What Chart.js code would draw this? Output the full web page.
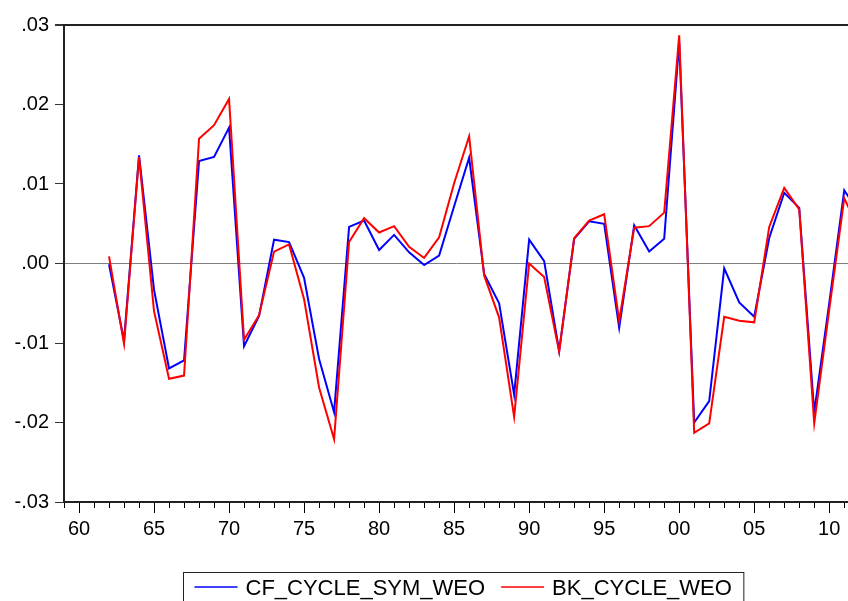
<!DOCTYPE html>
<html>
<head>
<meta charset="utf-8">
<title>CF vs BK cycle</title>
<script src="https://cdn.jsdelivr.net/npm/chart.js@4.4.1/dist/chart.umd.min.js"></script>
<style>
    html, body { margin: 0; padding: 0; background: #fff; overflow: hidden; }
</style>
</head>
<body>
<canvas id="cycleChart" width="848" height="601"></canvas>
<script>
//annual observations (1962-2012)
const years = [1962, 1963, 1964, 1965, 1966, 1967, 1968, 1969, 1970, 1971,
    1972, 1973, 1974, 1975, 1976, 1977, 1978, 1979, 1980, 1981,
    1982, 1983, 1984, 1985, 1986, 1987, 1988, 1989, 1990, 1991,
    1992, 1993, 1994, 1995, 1996, 1997, 1998, 1999, 2000, 2001,
    2002, 2003, 2004, 2005, 2006, 2007, 2008, 2009, 2010, 2011, 2012];

//Christiano-Fitzgerald symmetric filter cycle
const cfCycle = [-0.0001, -0.0097, 0.0136, -0.0033, -0.0132, -0.0122, 0.0129, 0.0134, 0.0171, -0.0104,
    -0.0066, 0.0030, 0.0027, -0.0018, -0.0120, -0.0187, 0.0046, 0.0054, 0.0017, 0.0036,
    0.0014, -0.0002, 0.0010, 0.0072, 0.0133, -0.0013, -0.0050, -0.0165, 0.0030, 0.0003,
    -0.0110, 0.0031, 0.0053, 0.0050, -0.0081, 0.0048, 0.0015, 0.0031, 0.0278, -0.0200,
    -0.0173, -0.0006, -0.0049, -0.0067, 0.0032, 0.0089, 0.0070, -0.0187, -0.0050, 0.0092, 0.0064];

//Baxter-King filter cycle
const bkCycle = [0.0009, -0.0101, 0.0134, -0.0060, -0.0145, -0.0141, 0.0157, 0.0174, 0.0207, -0.0096,
    -0.0065, 0.0015, 0.0024, -0.0045, -0.0156, -0.0221, 0.0027, 0.0057, 0.0039, 0.0047,
    0.0021, 0.0007, 0.0033, 0.0101, 0.0160, -0.0015, -0.0068, -0.0193, 0.0000, -0.0017,
    -0.0111, 0.0032, 0.0054, 0.0062, -0.0072, 0.0045, 0.0047, 0.0064, 0.0287, -0.0213,
    -0.0201, -0.0067, -0.0072, -0.0074, 0.0046, 0.0095, 0.0068, -0.0201, -0.0058, 0.0082, 0.0042];

//axis ticks
const xMajorTicks = [1960, 1965, 1970, 1975, 1980, 1985, 1990, 1995, 2000, 2005, 2010];
const xMajorLabels = ['60', '65', '70', '75', '80', '85', '90', '95', '00', '05', '10'];
const xMinorTicks = [];
for (let y = 1959; y <= 2011; y++) xMinorTicks.push(y);
const yTicks = [-0.03, -0.02, -0.01, 0, 0.01, 0.02, 0.03];
const yLabels = ['-.03', '-.02', '-.01', '.00', '.01', '.02', '.03'];

const FONT = '"Liberation Sans", Arial, sans-serif';
Chart.defaults.font.family = FONT;
Chart.defaults.color = '#000';

//boxed legend under the plot, like the eviews one
const legendBox = {
    id: 'legendBox',
    afterDraw(chart) {
        const c = chart.ctx;
        c.save();
        c.font = '22px ' + FONT;
        const sample = 43, gapText = 8, gapItem = 16, padL = 11, padR = 12;
        const items = chart.data.datasets.map(ds => ({
            label: ds.label,
            color: ds.borderColor,
            w: c.measureText(ds.label).width
        }));
        const total = padL + padR + items.reduce((s, it) => s + sample + gapText + it.w, 0) + gapItem * (items.length - 1);
        const left = Math.round(463 - total / 2) + 0.5;
        c.strokeStyle = '#222';
        c.lineWidth = 1;
        c.strokeRect(left, 572.5, total, 40);
        let x = left + padL;
        items.forEach(it => {
            c.strokeStyle = it.color;
            c.lineWidth = 1.5;
            c.beginPath();
            c.moveTo(x, 587);
            c.lineTo(x + sample, 587);
            c.stroke();
            x += sample + gapText;
            c.fillStyle = '#000';
            c.textBaseline = 'alphabetic';
            c.fillText(it.label, x, 595);
            x += it.w + gapItem;
        });
        c.restore();
    }
};

const ctx = document.getElementById('cycleChart');

const cycleChart = new Chart(ctx, {
    type: 'line',
    data: {
        datasets: [
            {label: 'CF_CYCLE_SYM_WEO', data: years.map((yr, i) => ({x: yr, y: cfCycle[i]})),
                borderColor: '#0000ff', borderWidth: 2, pointRadius: 0, tension: 0, order: 1},
            {label: 'BK_CYCLE_WEO', data: years.map((yr, i) => ({x: yr, y: bkCycle[i]})),
                borderColor: '#ff0000', borderWidth: 2, pointRadius: 0, tension: 0, order: 0} //red on top
        ]
    },
    options: {
        responsive: false,
        animation: false,
        layout: {padding: {top: 25, right: 0, bottom: 0, left: 0}},
        plugins: {
            legend: {display: false}, //drawn by legendBox
            tooltip: {enabled: false}
        },
        scales: {
            xMinor: { //yearly small ticks, no labels
                type: 'linear', position: 'bottom', weight: 0,
                min: 1959, max: 2011.25,
                afterBuildTicks: axis => { axis.ticks = xMinorTicks.map(v => ({value: v})); },
                afterFit: axis => { axis.height = 0; },
                grid: {drawOnChartArea: false, tickLength: 6, color: '#000'},
                border: {display: false},
                ticks: {display: false}
            },
            x: { //every five years, longer ticks with labels
                type: 'linear', position: 'bottom', weight: 1,
                min: 1959, max: 2011.25,
                afterBuildTicks: axis => { axis.ticks = xMajorTicks.map(v => ({value: v})); },
                afterFit: axis => { axis.height = 99; },
                grid: {drawOnChartArea: false, tickLength: 11, color: '#000'},
                border: {color: '#222', width: 2},
                ticks: {
                    font: {size: 20}, padding: 4, maxRotation: 0, autoSkip: false,
                    callback: (v, i) => xMajorLabels[i]
                }
            },
            y: {
                min: -0.03, max: 0.03,
                afterBuildTicks: axis => { axis.ticks = yTicks.map(v => ({value: v})); },
                afterFit: axis => { axis.width = 64; },
                grid: {
                    //only the zero line and the top frame show on the plot
                    color: c => (c.tick && c.tick.value === 0) ? '#808080' : ((c.tick && c.tick.value === 0.03) ? '#222' : 'rgba(0,0,0,0)'),
                    lineWidth: c => (c.tick && c.tick.value === 0.03) ? 2 : 1,
                    tickLength: 9,
                    tickColor: '#333'
                },
                border: {color: '#222', width: 2},
                ticks: {
                    font: {size: 20}, padding: 6, autoSkip: false,
                    callback: (v, i) => yLabels[i]
                }
            }
        }
    },
    plugins: [legendBox]
});
</script>
</body>
</html>
